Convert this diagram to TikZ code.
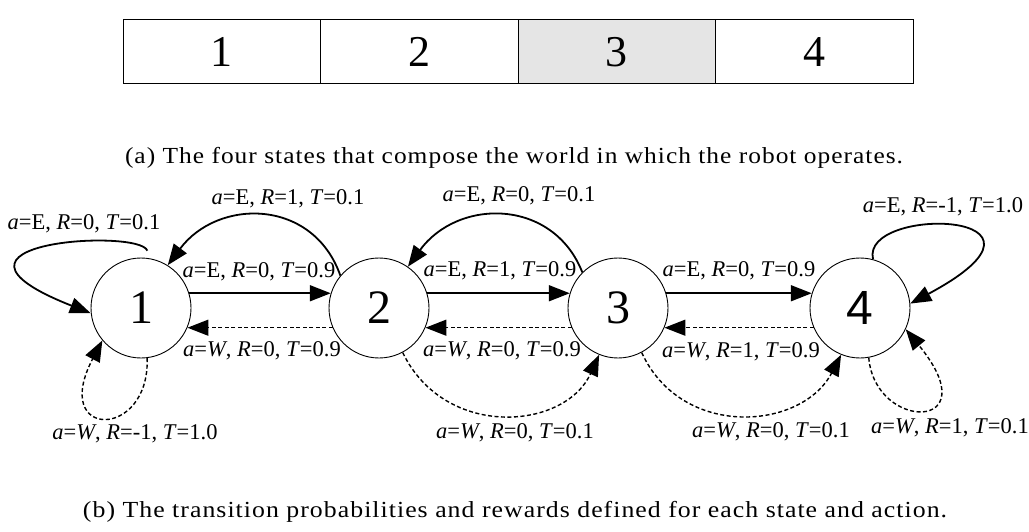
\documentclass[tikz,border=0pt]{standalone}
\usepackage{fontspec}
\setmainfont{Liberation Serif}
\newfontfamily\sansf{Liberation Sans}
\newfontfamily\spacedserif[LetterSpace=4]{Liberation Serif}
\usetikzlibrary{arrows.meta}
\begin{document}
\begin{tikzpicture}[x=1pt,y=-1pt,
  state/.style={circle,draw,line width=0.9pt,minimum size=100pt,inner sep=0pt,font=\fontsize{48}{50}\selectfont},
  cell/.style={draw,line width=1pt,minimum width=197.5pt,minimum height=64pt,inner sep=0pt,font=\fontsize{44}{46}\selectfont},
  lbl/.style={inner sep=0pt,font=\fontsize{22.5}{24}\selectfont},
  captext/.style={inner sep=0pt,font=\fontsize{23}{25}\spacedserif},
  solidedge/.style={line width=1.8pt,-{Triangle[length=21pt,width=16pt]}},
  dashedge/.style={line width=1.4pt,dash pattern=on 4pt off 2.5pt,-{Triangle[length=21pt,width=16pt]}},
]
\useasboundingbox (0,0) rectangle (1029,532);
% (a) the four cells
\node[cell] (c1) at (221.75,52) {1};
\node[cell] (c2) at (419.25,52) {2};
\node[cell,fill=black!10] (c3) at (616.75,52) {3};
\node[cell] (c4) at (814.25,52) {4};
\node[captext] (capa) at (514,158) {\resizebox{778pt}{\height}{(a) The four states that compose the world in which the robot operates.}};
% (b) states
\node[state] (n1) at (141,308) {1};
\node[state] (n2) at (379,308) {2};
\node[state] (n3) at (618,308) {3};
\node[state] (n4) at (860,308) {\sansf 4};
% straight E edges
\draw[solidedge] (n1.17) -- (n2.163);
\draw[solidedge] (n2.17) -- (n3.163);
\draw[solidedge] (n3.17) -- (n4.163);
% straight W edges
\draw[dashedge] (n2.203) -- (n1.-23);
\draw[dashedge] (n3.203) -- (n2.-23);
\draw[dashedge] (n4.203) -- (n3.-23);
% upper arcs (E, T=0.1)
\draw[solidedge] (n2.140) .. controls (313,198) and (218,198) .. (n1.58);
\draw[solidedge] (n3.135) .. controls (553,198) and (458,198) .. (n2.55);
% lower arcs (W, T=0.1)
\draw[dashedge] (n2.-62) .. controls (445,440) and (565,430) .. (n3.-112);
\draw[dashedge] (n3.-62) .. controls (682,440) and (802,430) .. (n4.-112);
% self loops
\draw[solidedge,shorten <=8pt] (n1.80) .. controls (140,228) and (-90,242) .. (n1.186);
\draw[dashedge] (n1.-83) .. controls (150,440) and (50,440) .. (n1.-140);
\draw[solidedge] (n4.75) .. controls (860,205) and (1085,210) .. (n4.5);
\draw[dashedge] (n4.-80) .. controls (875,432) and (990,432) .. (n4.-25);
% labels
\node[lbl] (l1e) at (84,224) {\textit{a}=E, \textit{R}=0, \textit{T}=0.1};
\node[lbl] (l21e) at (288,199) {\textit{a}=E, \textit{R}=1, \textit{T}=0.1};
\node[lbl] (l32e) at (519,196) {\textit{a}=E, \textit{R}=0, \textit{T}=0.1};
\node[lbl] (l4e) at (943,207) {\textit{a}=E, \textit{R}=-1, \textit{T}=1.0};
\node[lbl] (l12e) at (259,272) {\textit{a}=E, \textit{R}=0, \textit{T}=0.9};
\node[lbl] (l23e) at (500,271) {\textit{a}=E, \textit{R}=1, \textit{T}=0.9};
\node[lbl] (l34e) at (739,271) {\textit{a}=E, \textit{R}=0, \textit{T}=0.9};
\node[lbl] (l21w) at (262,351) {\textit{a}=\textit{W}, \textit{R}=0, \textit{T}=0.9};
\node[lbl] (l32w) at (502,351) {\textit{a}=\textit{W}, \textit{R}=0, \textit{T}=0.9};
\node[lbl] (l43w) at (741,352) {\textit{a}=\textit{W}, \textit{R}=1, \textit{T}=0.9};
\node[lbl] (l1w) at (135,434) {\textit{a}=\textit{W}, \textit{R}=-1, \textit{T}=1.0};
\node[lbl] (l23w) at (515,433) {\textit{a}=\textit{W}, \textit{R}=0, \textit{T}=0.1};
\node[lbl] (l34w) at (771,432) {\textit{a}=\textit{W}, \textit{R}=0, \textit{T}=0.1};
\node[lbl] (l4w) at (950,428) {\textit{a}=\textit{W}, \textit{R}=1, \textit{T}=0.1};
\node[captext] (capb) at (515,512) {\resizebox{864pt}{\height}{(b) The transition probabilities and rewards defined for each state and action.}};
\end{tikzpicture}
\end{document}
